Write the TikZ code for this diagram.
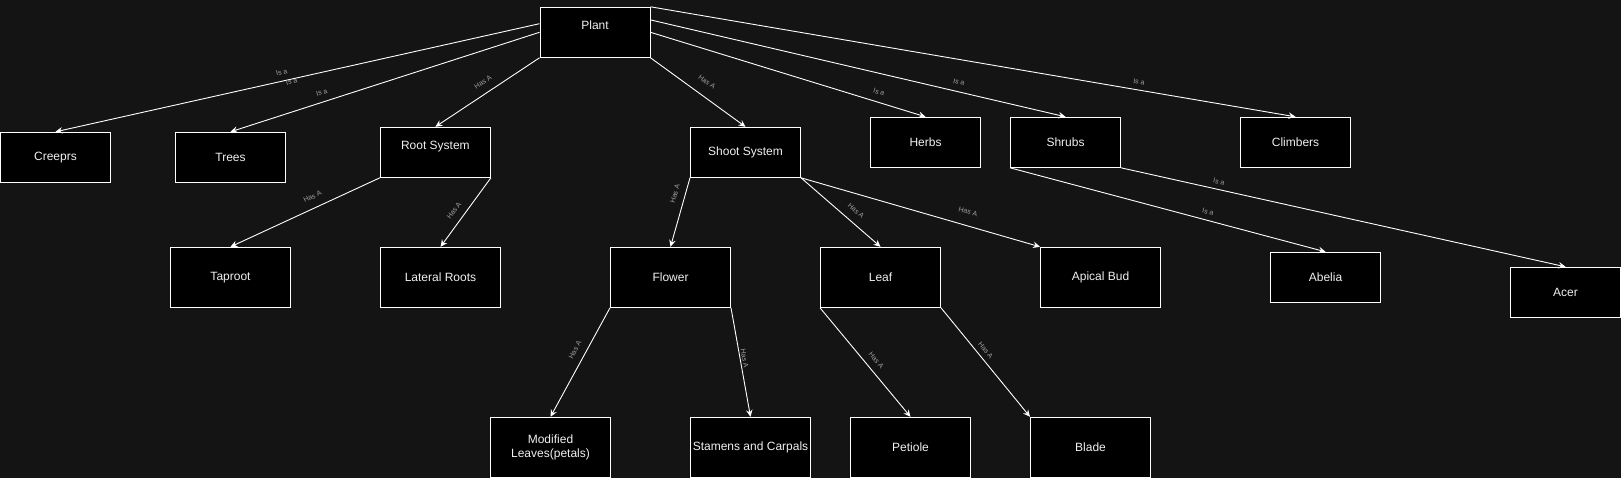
\documentclass[tikz,border=0pt]{standalone}
\usepackage{fontspec}
\setmainfont{Liberation Sans}
\usetikzlibrary{arrows.meta}
\definecolor{bgdark}{RGB}{20,20,20}
\definecolor{boxtext}{RGB}{240,240,240}
\definecolor{linktext}{RGB}{160,160,160}
\begin{document}
\begin{tikzpicture}[x=1pt,y=-1pt,
  box/.style={draw=white,fill=black,line width=1pt,inner sep=0pt,text=boxtext,
    font=\fontsize{12}{14.5}\selectfont,align=center,minimum width=110pt,minimum height=50pt},
  bigbox/.style={box,minimum width=120pt,minimum height=60pt},
  topbox/.style={box,text depth=14pt},
  link/.style={draw=white,line width=0.9pt,-{Stealth[length=7pt,width=6.5pt,inset=2.5pt]}},
  lbl/.style={text=linktext,font=\fontsize{7}{8}\selectfont,inner sep=0pt}]

\fill[bgdark] (0,0) rectangle (1621,478);

\node[topbox] (plant) at (595,32.3) {Plant};
\node[box] (creeprs) at (55.5,157.3) {Creeprs};
\node[box] (trees) at (230.5,157.3) {Trees};
\node[topbox] (root) at (435.4,152.3) {Root System};
\node[box] (shoot) at (745.5,152.3) {Shoot System};
\node[box] (herbs) at (925.5,142.3) {Herbs};
\node[box] (shrubs) at (1065.5,142.3) {Shrubs};
\node[box] (climbers) at (1295.5,142.3) {Climbers};
\node[bigbox] (taproot) at (230.5,277.3) {Taproot};
\node[bigbox] (lateral) at (440.5,277.3) {Lateral Roots};
\node[bigbox] (flower) at (670.5,277.3) {Flower};
\node[bigbox] (leaf) at (880.5,277.3) {Leaf};
\node[bigbox] (apical) at (1100.5,277.3) {Apical Bud};
\node[box] (abelia) at (1325.5,277.3) {Abelia};
\node[box] (acer) at (1565.5,292.3) {Acer};
\node[bigbox] (modified) at (550.5,447.3) {Modified\\Leaves(petals)};
\node[bigbox] (stamens) at (750.5,447.3) {Stamens and Carpals};
\node[bigbox] (petiole) at (910.5,447.3) {Petiole};
\node[bigbox] (blade) at (1090.5,447.3) {Blade};

\draw[link] ([yshift=8.6pt]plant.west) -- (creeprs.north);
\draw[link] (plant.west) -- (trees.north);
\draw[link] (plant.south west) -- (root.north);
\draw[link] (plant.south east) -- (shoot.north);
\draw[link] (plant.east) -- (herbs.north);
\draw[link] ([yshift=12.4pt]plant.east) -- (shrubs.north);
\draw[link] (plant.north east) -- (climbers.north);
\draw[link] (root.south west) -- (taproot.north);
\draw[link] (root.south east) -- (lateral.north);
\draw[link] (shoot.south west) -- (flower.north);
\draw[link] (shoot.south east) -- (leaf.north);
\draw[link] (shoot.south east) -- (apical.north west);
\draw[link] (shrubs.south west) -- (abelia.north);
\draw[link] (shrubs.south east) -- (acer.north);
\draw[link] (flower.south west) -- (modified.north);
\draw[link] (flower.south east) -- (stamens.north);
\draw[link] (leaf.south west) -- (petiole.north);
\draw[link] (leaf.south east) -- (blade.north west);

\node[lbl,rotate=12.6] (isacreeprs) at (281.7,72.3) {Is a};
\node[lbl,rotate=12.6] (isacreeprsb) at (291.7,81.7) {Is a};
\node[lbl,rotate=17.8] (isatrees) at (321.7,92.3) {Is a};
\node[lbl,rotate=33.8] (hasroot) at (483,82) {Has A};
\node[lbl,rotate=-36.3] (hasshoot) at (707,82) {Has A};
\node[lbl,rotate=-17.1] (isaherbs) at (879,92) {Is a};
\node[lbl,rotate=-13.2] (isashrubs) at (959,82) {Is a};
\node[lbl,rotate=-9.7] (isaclimbers) at (1139,82) {Is a};
\node[lbl,rotate=25] (hastaproot) at (312.4,196.7) {Has A};
\node[lbl,rotate=54.5] (haslateral) at (454,210.7) {Has A};
\node[lbl,rotate=74] (hasflower) at (675,194) {Has A};
\node[lbl,rotate=-41.2] (hasleaf) at (856,210.7) {Has A};
\node[lbl,rotate=-16.3] (hasapical) at (968,211.7) {Has A};
\node[lbl,rotate=-15.1] (isaabelia) at (1208,211.7) {Is a};
\node[lbl,rotate=-12.7] (isaacer) at (1219,181.7) {Is a};
\node[lbl,rotate=61.4] (hasmodified) at (575,350) {Has A};
\node[lbl,rotate=-79.6] (hasstamens) at (744.6,358.3) {Has A};
\node[lbl,rotate=-50.7] (haspetiole) at (876.3,360) {Has A};
\node[lbl,rotate=-50.7] (hasblade) at (985.7,350) {Has A};
\end{tikzpicture}
\end{document}
